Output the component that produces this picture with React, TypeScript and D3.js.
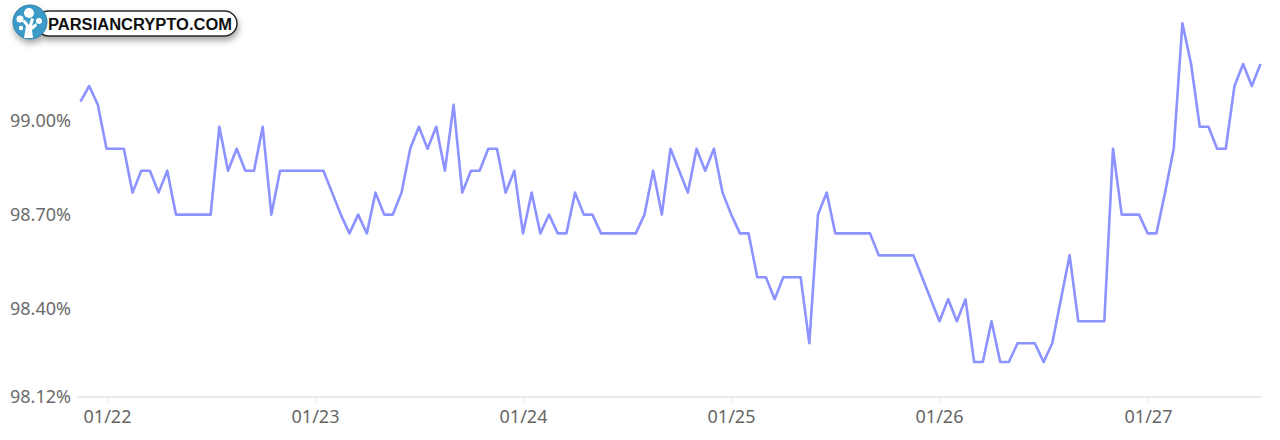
import { useEffect, useRef } from 'react';
import * as d3 from 'd3';

// hourly readings, first one at 01/21 21:00
const startTime = Date.UTC(2025, 0, 21, 21);
const rates = [
    99.06, 99.11, 99.05, 98.91, 98.91, 98.91, 98.77, 98.84, 98.84, 98.77,
    98.84, 98.70, 98.70, 98.70, 98.70, 98.70, 98.98, 98.84, 98.91, 98.84,
    98.84, 98.98, 98.70, 98.84, 98.84, 98.84, 98.84, 98.84, 98.84, 98.77,
    98.70, 98.64, 98.70, 98.64, 98.77, 98.70, 98.70, 98.77, 98.91, 98.98,
    98.91, 98.98, 98.84, 99.05, 98.77, 98.84, 98.84, 98.91, 98.91, 98.77,
    98.84, 98.64, 98.77, 98.64, 98.70, 98.64, 98.64, 98.77, 98.70, 98.70,
    98.64, 98.64, 98.64, 98.64, 98.64, 98.70, 98.84, 98.70, 98.91, 98.84,
    98.77, 98.91, 98.84, 98.91, 98.77, 98.70, 98.64, 98.64, 98.50, 98.50,
    98.43, 98.50, 98.50, 98.50, 98.29, 98.70, 98.77, 98.64, 98.64, 98.64,
    98.64, 98.64, 98.57, 98.57, 98.57, 98.57, 98.57, 98.50, 98.43, 98.36,
    98.43, 98.36, 98.43, 98.23, 98.23, 98.36, 98.23, 98.23, 98.29, 98.29,
    98.29, 98.23, 98.29, 98.43, 98.57, 98.36, 98.36, 98.36, 98.36, 98.91,
    98.70, 98.70, 98.70, 98.64, 98.64, 98.77, 98.91, 99.31, 99.18, 98.98,
    98.98, 98.91, 98.91, 99.11, 99.18, 99.11, 99.18,
];
const yTicks = [98.12, 98.4, 98.7, 99.0];
const logoText = 'PARSIANCRYPTO.COM';

interface Point {
    date: Date;
    value: number;
}

const data: Point[] = rates.map((value, i) => ({ date: new Date(startTime + i * 3600e3), value }));

export default function App() {
    const svgRef = useRef<SVGSVGElement>(null);

    useEffect(() => {
        if (!svgRef.current) return;
        const svg = d3.select(svgRef.current);
        svg.selectAll('*').remove();

        const left = 80.5;
        const right = 1260.5;
        const bottom = 397;

        const x = d3
            .scaleUtc()
            .domain(d3.extent(data, (d) => d.date) as [Date, Date])
            .range([left, right]);
        const y = d3.scaleLinear().domain([98.12, 99.0]).range([396.5, 120.5]);

        const font = '"Noto Sans", "Open Sans", sans-serif';

        // x axis
        const xAxis = svg.append('g').attr('transform', `translate(0,${bottom})`);
        xAxis
            .append('line')
            .attr('x1', 77)
            .attr('x2', 1261)
            .attr('stroke', '#e3e3e3')
            .attr('stroke-width', 1.5);
        const days = x.ticks(d3.utcDay.every(1)!);
        days.forEach((d) => {
            const tx = Math.round(x(d)) + 0.5;
            xAxis.append('line').attr('x1', tx).attr('x2', tx).attr('y1', 0).attr('y2', 6).attr('stroke', '#e3e3e3');
            xAxis
                .append('text')
                .attr('x', tx)
                .attr('y', 26)
                .attr('text-anchor', 'middle')
                .attr('font-family', font)
                .attr('font-size', 18)
                .attr('fill', '#666')
                .text(d3.utcFormat('%m/%d')(d));
        });

        // y labels
        yTicks.forEach((t) => {
            svg.append('text')
                .attr('x', 71)
                .attr('y', y(t))
                .attr('dy', '0.35em')
                .attr('text-anchor', 'end')
                .attr('font-family', font)
                .attr('font-size', 18)
                .attr('fill', '#6b6b6b')
                .text(t.toFixed(2) + '%');
        });

        // line
        const line = d3
            .line<Point>()
            .x((d) => x(d.date))
            .y((d) => y(d.value));
        svg.append('path')
            .datum(data)
            .attr('fill', 'none')
            .attr('stroke', '#8c92ff')
            .attr('stroke-width', 2.6)
            .attr('stroke-linejoin', 'round')
            .attr('d', line);

        // watermark logo
        const defs = svg.append('defs');
        const f = defs.append('filter').attr('id', 'shadow').attr('x', '-20%').attr('y', '-50%').attr('width', '140%').attr('height', '220%');
        f.append('feDropShadow').attr('dx', 1).attr('dy', 4).attr('stdDeviation', 3).attr('flood-color', '#000').attr('flood-opacity', 0.35);

        const logo = svg.append('g').attr('filter', 'url(#shadow)');
        logo.append('rect')
            .attr('x', 36)
            .attr('y', 11)
            .attr('width', 201)
            .attr('height', 25)
            .attr('rx', 12.5)
            .attr('fill', '#fff')
            .attr('stroke', '#2a2a2a')
            .attr('stroke-width', 1.5);
        logo.append('circle').attr('cx', 30).attr('cy', 22).attr('r', 17).attr('fill', '#3a9ac6').attr('stroke', '#2a7ea6').attr('stroke-width', 1);
        const icon = logo.append('g').attr('fill', '#fff');
        icon.append('path').attr('d', 'M24 38 L26 26 L22 21 L25 20 L29 25 L31 18 L34 19 L32 26 L36 23 L37 26 L32 30 L33 38 Z');
        icon.append('circle').attr('cx', 29).attr('cy', 13).attr('r', 5);
        icon.append('circle').attr('cx', 20).attr('cy', 19).attr('r', 3.5);
        icon.append('circle').attr('cx', 39).attr('cy', 21).attr('r', 3);
        icon.append('circle').attr('cx', 21).attr('cy', 28).attr('r', 2.2);

        svg.append('text')
            .attr('x', 48)
            .attr('y', 30)
            .attr('font-family', '"Liberation Sans", Arial, sans-serif')
            .attr('font-weight', 'bold')
            .attr('font-size', 16)
            .attr('textLength', 184)
            .attr('lengthAdjust', 'spacingAndGlyphs')
            .attr('fill', '#111')
            .text(logoText);
    }, []);

    return (
        <svg
            ref={svgRef}
            width={1280}
            height={440}
            style={{ position: 'absolute', left: 0, top: 0, background: '#fff' }}
        />
    );
}
